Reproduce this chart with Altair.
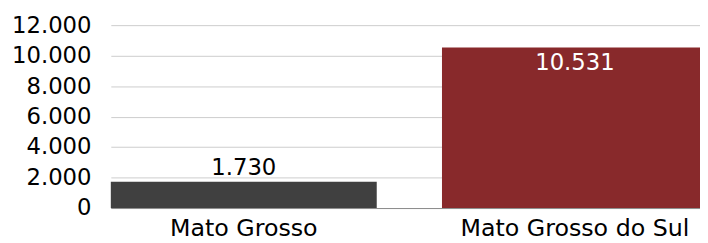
import altair as alt
import pandas as pd

states = ["Mato Grosso", "Mato Grosso do Sul"]
values = [1730, 10531]
colors = ["#404040", "#88292B"]
y_ticks = [0, 2000, 4000, 6000, 8000, 10000, 12000]

df = pd.DataFrame({"estado": states, "valor": values})

FONT = "DejaVu Sans"
FS = 23

x = alt.X("estado:N", sort=states, title=None,
          scale=alt.Scale(paddingInner=0.197, paddingOuter=0),
          axis=alt.Axis(labelAngle=0, domain=True, domainColor="#8c8c8c", domainWidth=1,
                        ticks=False, labelPadding=9,
                        labelOverlap=False, labelLimit=1000,
                        labelFont=FONT, labelFontSize=24, labelColor="#000000"))
y = alt.Y("valor:Q", title=None,
          scale=alt.Scale(domain=[0, 12000], nice=False),
          axis=alt.Axis(values=y_ticks, domain=False, ticks=False, labelPadding=20,
                        labelOverlap=False, labelLimit=1000,
                        labelFont=FONT, labelFontSize=FS, labelColor="#000000",
                        gridColor="#cccccc", gridWidth=1,
                        labelExpr="replace(format(datum.value, ','), ',', '.')"))

base = alt.Chart(df).transform_calculate(
    lbl="replace(format(datum.valor, ','), ',', '.')"
).encode(x=x, y=y)

bars = base.mark_bar().encode(
    color=alt.Color("estado:N", scale=alt.Scale(domain=states, range=colors), legend=None),
)

txt_out = base.transform_filter("datum.valor < 5000").mark_text(
    baseline="alphabetic", dy=-7, font=FONT, fontSize=FS, color="#000000"
).encode(text="lbl:N")

txt_in = base.transform_filter("datum.valor >= 5000").mark_text(
    baseline="alphabetic", dy=23, font=FONT, fontSize=FS, color="#ffffff"
).encode(text="lbl:N")

chart = alt.layer(bars, txt_out, txt_in).properties(
    width=604, height=185,
    autosize=alt.AutoSizeParams(type="none"),
    padding={"left": 104, "top": 16, "right": -8, "bottom": 34},
).configure_view(stroke=None)

chart.save("out.html", embed_options={"renderer": "svg", "actions": False})
